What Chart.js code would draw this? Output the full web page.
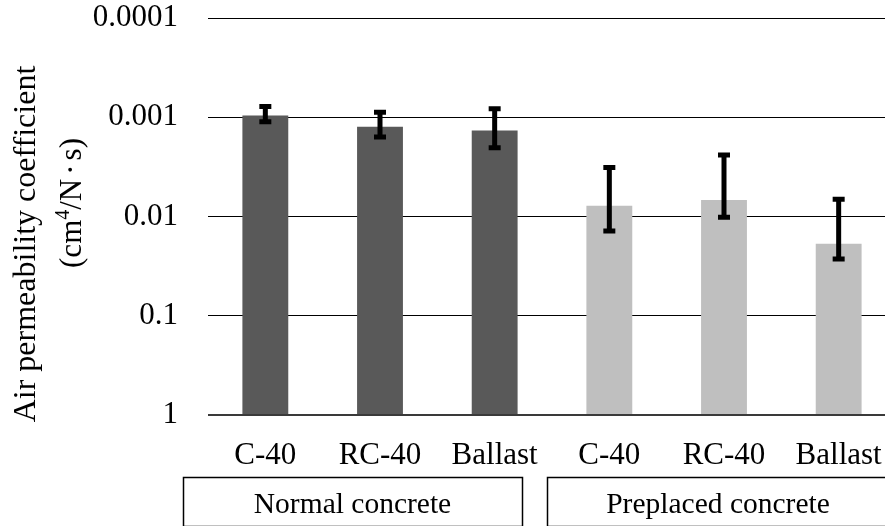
<!DOCTYPE html>
<html>
<head>
<meta charset="utf-8">
<script src="https://cdn.jsdelivr.net/npm/chart.js@4/dist/chart.umd.min.js"></script>
<style>
  html, body { margin: 0; padding: 0; background: #ffffff; }
  #wrap { position: relative; width: 885px; height: 526px; overflow: hidden; }
  canvas { display: block; }
</style>
</head>
<body>
<div id="wrap"><canvas id="chart" width="896" height="526"></canvas></div>
<script>
// Specimen names along the category axis and the concrete type of each
const categories = ['C-40', 'RC-40', 'Ballast', 'C-40', 'RC-40', 'Ballast'];
const groups = ['Normal concrete', 'Preplaced concrete'];
const groupOf = [0, 0, 0, 1, 1, 1];

// Mean air permeability coefficient (cm4/N·s) and the ends of each error bar
const permeability = [0.00096, 0.00125, 0.00136, 0.0078, 0.0068, 0.0188];
const errorLow  = [0.00078, 0.00089, 0.00082, 0.0032, 0.0024, 0.0067];
const errorHigh = [0.00111, 0.00158, 0.00203, 0.0140, 0.0102, 0.0268];

// Decade ticks of the (inverted) log axis
const tickValues = [0.0001, 0.001, 0.01, 0.1, 1];
const tickLabels = ['0.0001', '0.001', '0.01', '0.1', '1'];

const groupColors = ['#595959', '#bfbfbf'];
const FONT = 'Liberation Serif';

// Black error bars with flat caps
const errorBars = {
  id: 'errorBars',
  afterDatasetsDraw(chart) {
    const ctx = chart.ctx;
    const y = chart.scales.y;
    const meta = chart.getDatasetMeta(0);
    ctx.save();
    ctx.strokeStyle = '#000000';
    ctx.lineWidth = 5;
    ctx.lineCap = 'butt';
    meta.data.forEach((bar, i) => {
      const x = bar.x;
      const yA = y.getPixelForValue(errorLow[i]);
      const yB = y.getPixelForValue(errorHigh[i]);
      ctx.beginPath();
      ctx.moveTo(x, yA);
      ctx.lineTo(x, yB);
      ctx.moveTo(x - 6, yA);
      ctx.lineTo(x + 6, yA);
      ctx.moveTo(x - 6, yB);
      ctx.lineTo(x + 6, yB);
      ctx.stroke();
    });
    ctx.restore();
  }
};

// Two-line rotated axis title with a superscript
const axisTitle = {
  id: 'axisTitle',
  afterDraw(chart) {
    const ctx = chart.ctx;
    ctx.save();
    ctx.fillStyle = '#000000';
    ctx.textBaseline = 'alphabetic';

    // first line
    ctx.save();
    ctx.translate(35, 244);
    ctx.rotate(-Math.PI / 2);
    ctx.font = '32px "' + FONT + '"';
    ctx.textAlign = 'center';
    ctx.fillText('Air permeability coefficient', 0, 0);
    ctx.restore();

    // second line: (cm⁴/N·s)
    const parts = [
      { t: '(cm', size: 31, rise: 0, gap: 0 },
      { t: '4', size: 20, rise: 12, gap: 0 },
      { t: '/N', size: 31, rise: 0, gap: 0 },
      { t: '\u00b7', size: 31, rise: 0, gap: 4 },
      { t: 's)', size: 31, rise: 0, gap: 0 }
    ];
    const fontOf = p => p.size + 'px "' + FONT + '"';
    let total = 0;
    parts.forEach(p => {
      ctx.font = fontOf(p);
      p.w = ctx.measureText(p.t).width + 2 * p.gap;
      total += p.w;
    });
    ctx.save();
    ctx.translate(81, 203);
    ctx.rotate(-Math.PI / 2);
    ctx.textAlign = 'left';
    let cx = -total / 2;
    parts.forEach(p => {
      ctx.font = fontOf(p);
      ctx.fillText(p.t, cx + p.gap, -p.rise);
      cx += p.w;
    });
    ctx.restore();
    ctx.restore();
  }
};

// Boxed group labels under the category labels
const groupBoxes = {
  id: 'groupBoxes',
  afterDraw(chart) {
    const ctx = chart.ctx;
    const boxes = [
      { x: 183, w: 339 },
      { x: 547, w: 342 }
    ];
    ctx.save();
    ctx.strokeStyle = '#000000';
    ctx.lineWidth = 1.5;
    ctx.fillStyle = '#000000';
    ctx.font = '29.5px "' + FONT + '"';
    ctx.textAlign = 'center';
    ctx.textBaseline = 'alphabetic';
    groups.forEach((g, i) => {
      const b = boxes[i];
      ctx.strokeRect(b.x + 0.5, 477.5, b.w, 49);
      ctx.fillText(g, b.x + b.w / 2, 513);
    });
    ctx.restore();
  }
};

new Chart(document.getElementById('chart'), {
  type: 'bar',
  data: {
    labels: categories,
    datasets: [{
      data: permeability,
      base: 1,
      backgroundColor: categories.map((_, i) => groupColors[groupOf[i]]),
      borderWidth: 0,
      barPercentage: 0.4,
      categoryPercentage: 1
    }]
  },
  options: {
    responsive: false,
    animation: false,
    devicePixelRatio: 1,
    layout: { padding: { left: 0, right: 0, top: 18, bottom: 0 } },
    plugins: {
      legend: { display: false },
      tooltip: { enabled: false },
      title: { display: false }
    },
    scales: {
      x: {
        offset: true,
        grid: { display: false, drawTicks: false },
        border: { display: false },
        ticks: {
          color: '#000000',
          font: { family: FONT, size: 31, lineHeight: 1 },
          padding: 25,
          maxRotation: 0,
          autoSkip: false
        },
        afterFit: s => { s.height = 111; s.paddingLeft = 0; s.paddingRight = 0; }
      },
      y: {
        type: 'logarithmic',
        reverse: true,
        min: 0.0001,
        max: 1,
        afterBuildTicks: s => { s.ticks = tickValues.map(v => ({ value: v })); },
        afterFit: s => { s.width = 208; s.paddingTop = 0; s.paddingBottom = 0; },
        border: { display: false },
        grid: {
          drawTicks: false,
          color: c => (c.tick && c.tick.value === 1) ? '#3a3a3a' : '#000000',
          lineWidth: c => (c.tick && c.tick.value === 1) ? 2 : 1
        },
        ticks: {
          color: '#000000',
          font: { family: FONT, size: 31, lineHeight: 1 },
          padding: 30,
          callback: (v, i) => tickLabels[i]
        }
      }
    }
  },
  plugins: [errorBars, axisTitle, groupBoxes]
});
</script>
</body>
</html>
